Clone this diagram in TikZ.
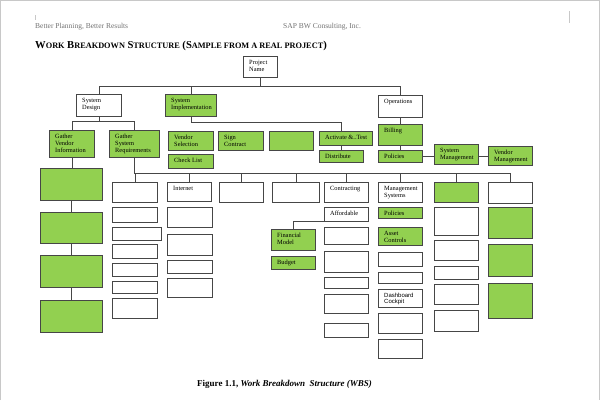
\documentclass[tikz,border=0pt]{standalone}
\usepackage{fontspec}
\setmainfont{Liberation Serif}
\setsansfont{Liberation Sans}
\definecolor{wbsgreen}{RGB}{146,208,80}
\definecolor{edgec}{RGB}{70,70,70}
\definecolor{pagec}{RGB}{200,200,200}
\newcommand\wbsbox[6]{\node[#6, minimum width={(#4-#2)*1pt}, minimum height={(#5-#3)*1pt}] (#1) at (#2,#3) {};}
\newcommand\wbstext[2]{\node[lbl] (#1t) at ([shift={(6,4)}]#1.north west) {#2};}
\newcommand\fsc[2]{{\fontsize{10.6}{12}\selectfont #1}{\fontsize{8.3}{10}\selectfont #2}}
\begin{document}
\begin{tikzpicture}[x=1pt,y=-1pt,
  box/.style={draw=edgec, line width=0.75pt, rectangle, inner sep=0pt, anchor=north west},
  gbox/.style={box, fill=wbsgreen},
  wbox/.style={box, fill=white},
  lbl/.style={anchor=north west, inner sep=0pt, align=left, font=\fontsize{6.4}{7}\selectfont},
  conn/.style={draw=edgec, line width=0.75pt},
  tick/.style={draw=pagec, line width=0.6pt}]
\useasboundingbox (0,0) rectangle (600,400);
\fill[white] (0,0) rectangle (600,400);
% page frame
\draw[draw=pagec, line width=1pt] (0.5,400) -- (0.5,0.5) -- (599.3,0.5) -- (599.3,400);
\coordinate (tl1) at (35,15); \coordinate (tl2) at (35,20);
\coordinate (tr1) at (569,11); \coordinate (tr2) at (569,23);
\draw[tick] (tl1) -- (tl2);
\draw[tick] (tr1) -- (tr2);
% header
\node[anchor=base west, inner sep=0pt, font=\fontsize{7.5}{9}\selectfont, text=black!55] (hl) at (35,28) {Better Planning, Better Results};
\node[anchor=base west, inner sep=0pt, font=\fontsize{7.5}{9}\selectfont, text=black!55] (hr) at (283,28) {SAP BW Consulting, Inc.};
% title
\node[anchor=base west, inner sep=0pt, font=\bfseries] (title) at (35,48.5) {\fsc{W}{ORK} \fsc{B}{REAKDOWN} \fsc{S}{TRUCTURE} \fsc{(S}{AMPLE FROM A REAL PROJECT}\fsc{)}{}};
% level 1-2
\wbsbox{pn}{243}{56}{277}{77}{wbox} \wbstext{pn}{Project\\Name}
\wbsbox{sd}{76}{94}{121}{116}{wbox} \wbstext{sd}{System\\Design}
\wbsbox{si}{165}{94}{216}{116}{gbox} \wbstext{si}{System\\Implementation}
\wbsbox{op}{378}{95}{422}{117}{wbox} \wbstext{op}{Operations}
% level 3
\wbsbox{gvi}{49}{130}{94}{157}{gbox} \wbstext{gvi}{Gather\\Vendor\\Information}
\wbsbox{gsr}{109}{130}{159}{157}{gbox} \wbstext{gsr}{Gather\\System\\Requirements}
\wbsbox{vs}{168}{131}{213}{150}{gbox} \wbstext{vs}{Vendor\\Selection}
\wbsbox{sc}{218}{131}{263}{150}{gbox} \wbstext{sc}{Sign\\Contract}
\wbsbox{eg}{269}{131}{313}{150}{gbox}
\wbsbox{act}{319}{131}{372}{145}{gbox} \wbstext{act}{Activate \&..Test}
\wbsbox{dist}{319}{150}{363}{162}{gbox} \wbstext{dist}{Distribute}
\wbsbox{cl}{168}{154}{213}{168}{gbox} \wbstext{cl}{Check List}
\wbsbox{bil}{378}{124}{422}{145}{gbox} \wbstext{bil}{Billing}
\wbsbox{pol}{378}{150}{422}{162}{gbox} \wbstext{pol}{Policies}
\wbsbox{sysm}{434}{144}{478}{164}{gbox} \wbstext{sysm}{System\\Management}
\wbsbox{vm}{488}{146}{532}{165}{gbox} \wbstext{vm}{Vendor\\Management}
% row under Gather System Requirements
\wbsbox{r1}{112}{182}{157}{202}{wbox}
\wbsbox{r2}{167}{182}{211}{201}{wbox} \wbstext{r2}{Internet}
\wbsbox{r3}{219}{182}{263}{202}{wbox}
\wbsbox{r4}{272}{182}{319}{202}{wbox}
\wbsbox{r5}{324}{182}{368}{202}{wbox} \wbstext{r5}{Contracting}
\wbsbox{r6}{378}{182}{422}{202}{wbox} \wbstext{r6}{Management\\Systems}
\wbsbox{r7}{434}{182}{478}{202}{gbox}
\wbsbox{r8}{488}{182}{532}{203}{wbox}
% Gather Vendor Information column
\wbsbox{g1}{40}{168}{102}{200}{gbox}
\wbsbox{g2}{40}{212}{102}{243}{gbox}
\wbsbox{g3}{40}{255}{102}{287}{gbox}
\wbsbox{g4}{40}{300}{102}{332}{gbox}
% column A
\wbsbox{a1}{112}{207}{157}{222}{wbox}
\wbsbox{a2}{112}{227}{161}{240}{wbox}
\wbsbox{a3}{112}{244}{157}{258}{wbox}
\wbsbox{a4}{112}{263}{157}{276}{wbox}
\wbsbox{a5}{112}{281}{157}{293}{wbox}
\wbsbox{a6}{112}{298}{157}{318}{wbox}
% column Internet
\wbsbox{b1}{167}{207}{212}{227}{wbox}
\wbsbox{b2}{167}{234}{212}{255}{wbox}
\wbsbox{b3}{167}{260}{212}{273}{wbox}
\wbsbox{b4}{167}{278}{212}{297}{wbox}
% Financial model
\wbsbox{fm}{271}{229}{315}{250}{gbox} \wbstext{fm}{Financial\\Model}
\wbsbox{bud}{271}{256}{315}{269}{gbox} \wbstext{bud}{Budget}
% column Contracting
\wbsbox{c1}{324}{207}{368}{221}{wbox} \wbstext{c1}{Affordable}
\wbsbox{c2}{324}{227}{368}{244}{wbox}
\wbsbox{c3}{324}{251}{368}{272}{wbox}
\wbsbox{c4}{324}{277}{368}{288}{wbox}
\wbsbox{c5}{324}{294}{368}{313}{wbox}
\wbsbox{c6}{324}{323}{368}{337}{wbox}
% column Management Systems
\wbsbox{m1}{378}{207}{422}{218}{gbox} \wbstext{m1}{Policies}
\wbsbox{m2}{378}{227}{422}{245}{gbox} \wbstext{m2}{Asset\\Controls}
\wbsbox{m3}{378}{252}{422}{266}{wbox}
\wbsbox{m4}{378}{272}{422}{283}{wbox}
\wbsbox{m5}{378}{289}{422}{307}{wbox}
\node[lbl, font=\sffamily\fontsize{6}{6}\selectfont] (m5t) at ([shift={(6,4)}]m5.north west) {Dashboard\\Cockpit};
\wbsbox{m6}{378}{313}{422}{333}{wbox}
\wbsbox{m7}{378}{339}{422}{358}{wbox}
% column G
\wbsbox{h1}{434}{207}{478}{235}{wbox}
\wbsbox{h2}{434}{240}{478}{260}{wbox}
\wbsbox{h3}{434}{266}{478}{279}{wbox}
\wbsbox{h4}{434}{284}{478}{304}{wbox}
\wbsbox{h5}{434}{310}{478}{331}{wbox}
% column H
\wbsbox{k1}{488}{207}{532}{238}{gbox}
\wbsbox{k2}{488}{244}{532}{276}{gbox}
\wbsbox{k3}{488}{283}{532}{318}{gbox}
% connectors
\draw[conn] (pn.south) -- ++(0,9) -| (sd.north);
\draw[conn] (pn.south) -- ++(0,9) -| (si.north);
\draw[conn] (pn.south) -- ++(0,9) -| (op.north);
\draw[conn] (sd.south) -- ++(0,5) -| (gvi.north);
\draw[conn] (sd.south) -- ++(0,5) -| (gsr.north);
\draw[conn] (si.south) -- ++(0,6) -| (dist.north |- act.north);
\draw[conn] (act.south -| dist.north) -- (dist.north);
\draw[conn] (op.south) -- (bil.north);
\draw[conn] (bil.south) -- (pol.north);
\draw[conn] (pol.east) -- (pol.east -| sysm.west);
\draw[conn] (sysm.east |- pol.east) -- (vm.west |- pol.east);
\draw[conn] (gvi.south) -- (gvi.south |- g1.north);
\draw[conn] (g1.south) -- (g2.north);
\draw[conn] (g2.south) -- (g3.north);
\draw[conn] (g3.south) -- (g4.north);
\foreach \r in {r1,r2,r3,r4,r5,r6,r7,r8}{
  \draw[conn] (gsr.south) -- ++(0,16) -| (\r.north);
}
\draw[conn] (c1.south west) -| (fm.north);
% caption
\node[anchor=base west, inner sep=0pt, font=\fontsize{9}{11}\selectfont\bfseries] (cap) at (197,386) {Figure 1.1, \textit{Work Breakdown\ \ Structure (WBS)}};
\end{tikzpicture}
\end{document}
